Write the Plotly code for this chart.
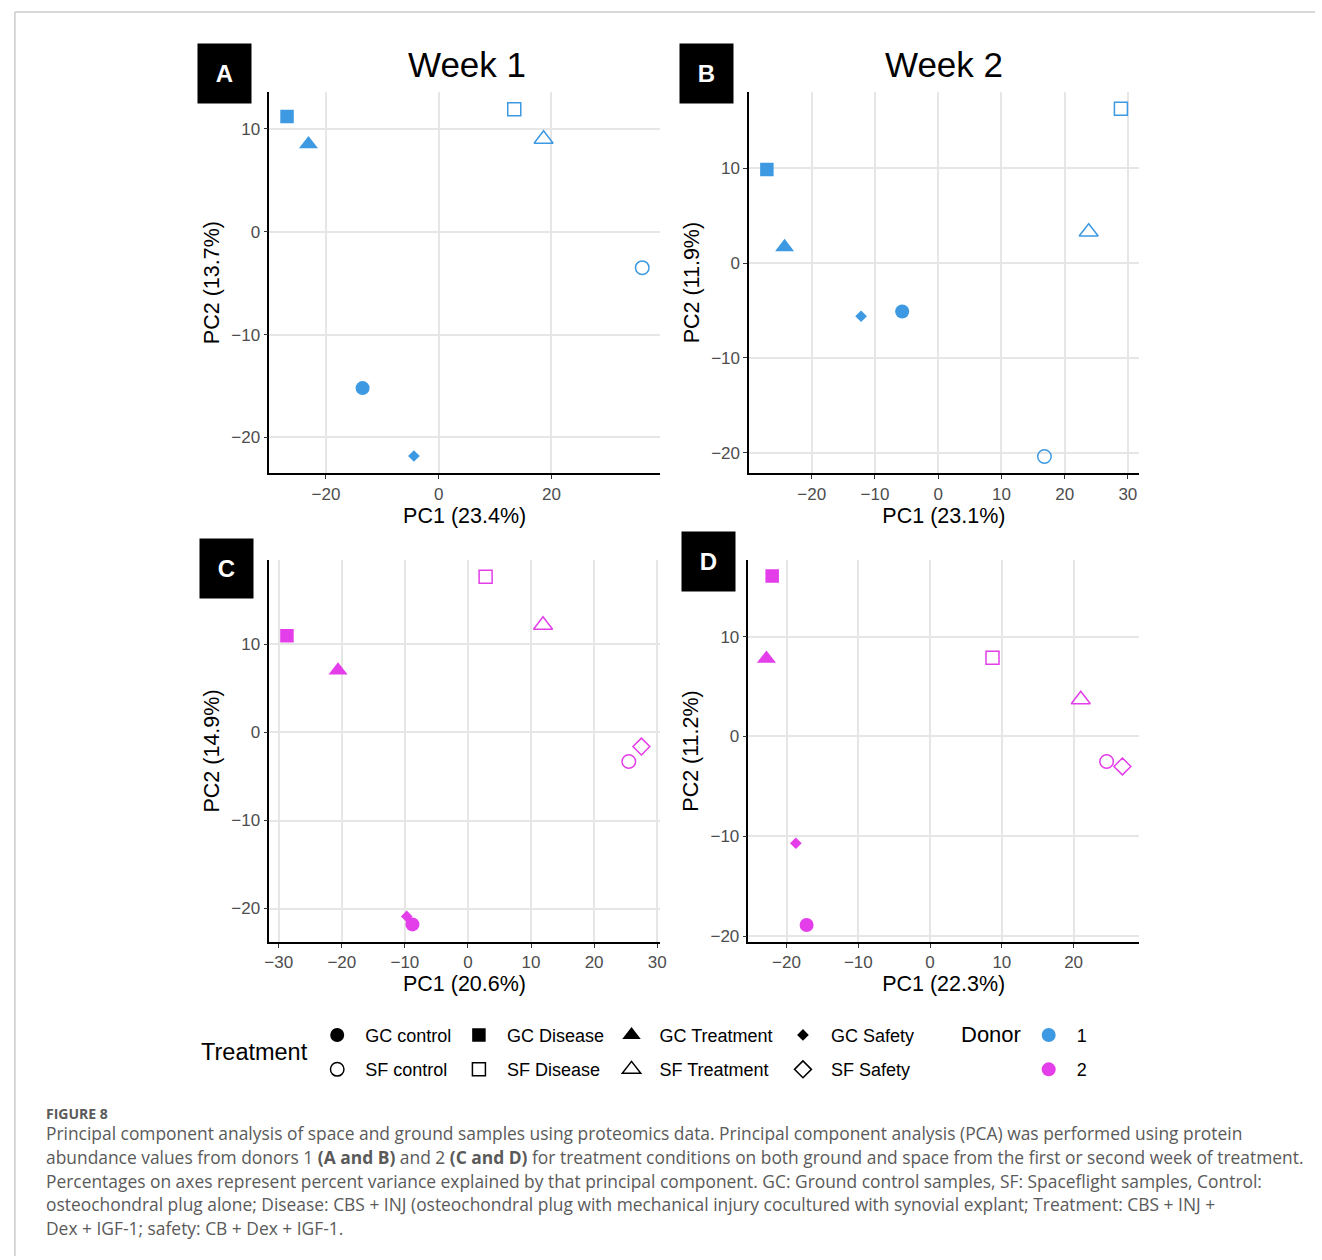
import plotly.graph_objects as go

W, H = 1322, 1260

# ---------------- data ----------------
treatments = ["GC control", "GC Disease", "GC Treatment", "GC Safety",
              "SF control", "SF Disease", "SF Treatment", "SF Safety"]
donors = ["1", "2"]
donor_colors = {"1": "#3D9AE2", "2": "#E43DEA"}

# Panel A: donor 1, week 1
a_pc1 = [-13.5, -26.9, -23.1, -4.4, 36.1, 13.4, 18.6, None]
a_pc2 = [-15.2, 11.2, 8.5, -21.8, -3.5, 11.9, 9.0, None]
# Panel B: donor 1, week 2
b_pc1 = [-5.7, -27.1, -24.3, -12.2, 16.8, 28.9, 23.8, None]
b_pc2 = [-5.1, 9.9, 1.7, -5.6, -20.4, 16.3, 3.3, None]
# Panel C: donor 2, week 1
c_pc1 = [-8.8, -28.7, -20.6, -9.7, 25.5, 2.8, 11.9, 27.5]
c_pc2 = [-21.8, 11.0, 7.05, -20.9, -3.3, 17.7, 12.2, -1.6]
# Panel D: donor 2, week 2
d_pc1 = [-17.2, -22.0, -22.8, -18.7, 24.6, 8.7, 21.0, 26.8]
d_pc2 = [-18.9, 16.1, 7.8, -10.7, -2.5, 7.9, 3.7, -3.0]

x_titles = ["PC1 (23.4%)", "PC1 (23.1%)", "PC1 (20.6%)", "PC1 (22.3%)"]
y_titles = ["PC2 (13.7%)", "PC2 (11.9%)", "PC2 (14.9%)", "PC2 (11.2%)"]
panel_letters = ["A", "B", "C", "D"]
week_titles = ["Week 1", "Week 2"]

caption_head = "FIGURE 8"
caption_lines = [
    "Principal component analysis of space and ground samples using proteomics data. Principal component analysis (PCA) was performed using protein",
    "abundance values from donors 1 <b>(A and B)</b> and 2 <b>(C and D)</b> for treatment conditions on both ground and space from the first or second week of treatment.",
    "Percentages on axes represent percent variance explained by that principal component. GC: Ground control samples, SF: Spaceflight samples, Control:",
    "osteochondral plug alone; Disease: CBS + INJ (osteochondral plug with mechanical injury cocultured with synovial explant; Treatment: CBS + INJ +",
    "Dex + IGF-1; safety: CB + Dex + IGF-1.",
]

# ---------------- styles ----------------
symbols = {
    "GC control": ("circle", 14), "GC Disease": ("square", 13.5),
    "GC Treatment": ("triangle-up", 16.5), "GC Safety": ("diamond", 9),
    "SF control": ("circle-open", 13.5), "SF Disease": ("square-open", 13),
    "SF Treatment": ("triangle-up-open", 16.5), "SF Safety": ("diamond-open", 13),
}

def px_x(x):
    return x / W

def px_y(y):
    return 1 - y / H

FONT = "Liberation Sans"

panels = [
    dict(pc1=a_pc1, pc2=a_pc2, donor="1", dom=(266.7, 661, 92, 475),
         xr=[-30.05, 39.25], yr=[-23.5, 13.6], dx=20, box=(222, 73.5)),
    dict(pc1=b_pc1, pc2=b_pc2, donor="1", dom=(751, 1144, 92, 475),
         xr=[-29.9, 31.7], yr=[-22.2, 18.1], dx=10, box=(708, 74)),
    dict(pc1=c_pc1, pc2=c_pc2, donor="2", dom=(266.7, 660.7, 561.7, 945),
         xr=[-31.5, 30.4], yr=[-23.8, 19.6], dx=10, box=(224, 570)),
    dict(pc1=d_pc1, pc2=d_pc2, donor="2", dom=(750.3, 1144.3, 561.7, 945),
         xr=[-25.3, 29.1], yr=[-20.6, 17.7], dx=10, box=(710, 563)),
]

fig = go.Figure()
layout = dict(
    width=W, height=H, margin=dict(l=0, r=0, t=0, b=0),
    paper_bgcolor="white", plot_bgcolor="white",
    font=dict(family=FONT, color="black"),
    showlegend=True,
)

annotations = []
for i, p in enumerate(panels):
    n = "" if i == 0 else str(i + 1)
    xa, ya = "x" + n, "y" + n
    x0, x1, y0, y1 = p["dom"]
    common = dict(
        showline=True, linecolor="black", linewidth=1.5, mirror=False,
        showgrid=True, gridcolor="#E6E6E6", gridwidth=1.6, zeroline=False,
        ticks="outside", ticklen=4, tickwidth=1.2, tickcolor="#333333",
        tickfont=dict(family=FONT, size=17, color="#4D4D4D"),
    )
    layout["xaxis" + n] = dict(
        common, domain=[px_x(x0), px_x(x1)], range=p["xr"], dtick=p["dx"],
        tick0=0, anchor=ya,
        title=dict(text=x_titles[i], font=dict(family=FONT, size=21.5, color="black"), standoff=4),
    )
    layout["yaxis" + n] = dict(
        common, domain=[px_y(y1), px_y(y0)], range=p["yr"], dtick=10, tick0=0,
        anchor=xa,
        title=dict(text=y_titles[i], font=dict(family=FONT, size=21.5, color="black"), standoff=6),
    )
    for t, xv, yv in zip(treatments, p["pc1"], p["pc2"]):
        if xv is None:
            continue
        sym, sz = symbols[t]
        col = donor_colors[p["donor"]]
        fig.add_trace(go.Scatter(
            x=[xv], y=[yv], mode="markers", xaxis=xa, yaxis=ya,
            showlegend=False, name=t,
            marker=dict(symbol=sym, size=sz, color=col,
                        line=dict(color=col, width=1.5 if "open" in sym else 0)),
        ))
    # panel letter box
    bx, by = p["box"]
    annotations.append(dict(
        x=px_x(bx), y=px_y(by), xref="paper", yref="paper", showarrow=False,
        text="<b>" + panel_letters[i] + "</b>", width=51, height=57,
        bgcolor="black", font=dict(family=FONT, size=24, color="white"),
        xanchor="center", yanchor="middle",
    ))

# week titles
for txt, cx in zip(week_titles, [466.7, 948]):
    annotations.append(dict(
        x=px_x(cx), y=px_y(65), xref="paper", yref="paper", showarrow=False,
        text=txt, font=dict(family=FONT, size=35, color="black"),
        xanchor="center", yanchor="middle",
    ))

# ---------------- legends ----------------
col_x = [335, 478, 632, 805]
leg_names = ["legend", "legend2", "legend3", "legend4"]
ITEMW = 46
for c in range(4):
    for r in range(2):
        t = treatments[c + 4 * r]
        sym, sz = symbols[t]
        fig.add_trace(go.Scatter(
            x=[None], y=[None], mode="markers", name=t,
            legend=leg_names[c], legendgroup=t, showlegend=True,
            marker=dict(symbol=sym, size=sz, color="black",
                        line=dict(color="black", width=1.5 if "open" in sym else 0)),
        ))
    layout[leg_names[c]] = dict(
        x=px_x(col_x[c] - 28), y=px_y(1020), xanchor="left", yanchor="top",
        orientation="v", font=dict(family=FONT, size=18, color="black"),
        bgcolor="rgba(0,0,0,0)", borderwidth=0, tracegroupgap=8,
        itemwidth=ITEMW, itemclick=False, itemdoubleclick=False,
    )

for d in donors:
    fig.add_trace(go.Scatter(
        x=[None], y=[None], mode="markers", name=d,
        legend="legend5", legendgroup="donor" + d, showlegend=True,
        marker=dict(symbol="circle", size=14, color=donor_colors[d]),
    ))
layout["legend5"] = dict(
    x=px_x(1053 - 28), y=px_y(1020), xanchor="left", yanchor="top",
    orientation="v", font=dict(family=FONT, size=18, color="black"),
    bgcolor="rgba(0,0,0,0)", borderwidth=0, tracegroupgap=8,
    itemwidth=ITEMW, itemclick=False, itemdoubleclick=False,
)

annotations.append(dict(
    x=px_x(196), y=px_y(1055), xref="paper", yref="paper", showarrow=False,
    text="Treatment", font=dict(family=FONT, size=23.5, color="black"),
    xanchor="left", yanchor="middle",
))
annotations.append(dict(
    x=px_x(963), y=px_y(1038), xref="paper", yref="paper", showarrow=False,
    text="Donor", font=dict(family=FONT, size=22, color="black"),
    xanchor="left", yanchor="middle",
))

# ---------------- caption ----------------
CAP_FONT = "Open Sans"
annotations.append(dict(
    x=px_x(39), y=px_y(1117), xref="paper", yref="paper", showarrow=False,
    text="<b>" + caption_head + "</b>", font=dict(family=CAP_FONT, size=14, color="#5A5A5A"),
    xanchor="left", yanchor="middle",
))
for k, line in enumerate(caption_lines):
    annotations.append(dict(
        x=px_x(39), y=px_y(1137 + 23.75 * k), xref="paper", yref="paper", showarrow=False,
        text=line, font=dict(family=CAP_FONT, size=17.4, color="#5A5A5A"),
        xanchor="left", yanchor="middle",
    ))

layout["annotations"] = annotations
layout["shapes"] = [
    dict(type="line", xref="paper", yref="paper", x0=px_x(10), x1=1, y0=px_y(12), y1=px_y(12),
         line=dict(color="#CCCCCC", width=1.5)),
    dict(type="line", xref="paper", yref="paper", x0=px_x(10), x1=px_x(10), y0=px_y(12), y1=0,
         line=dict(color="#CCCCCC", width=1.5)),
]

fig.update_layout(**layout)
fig.write_html("out.html", post_script="document.body.style.margin='0';")
